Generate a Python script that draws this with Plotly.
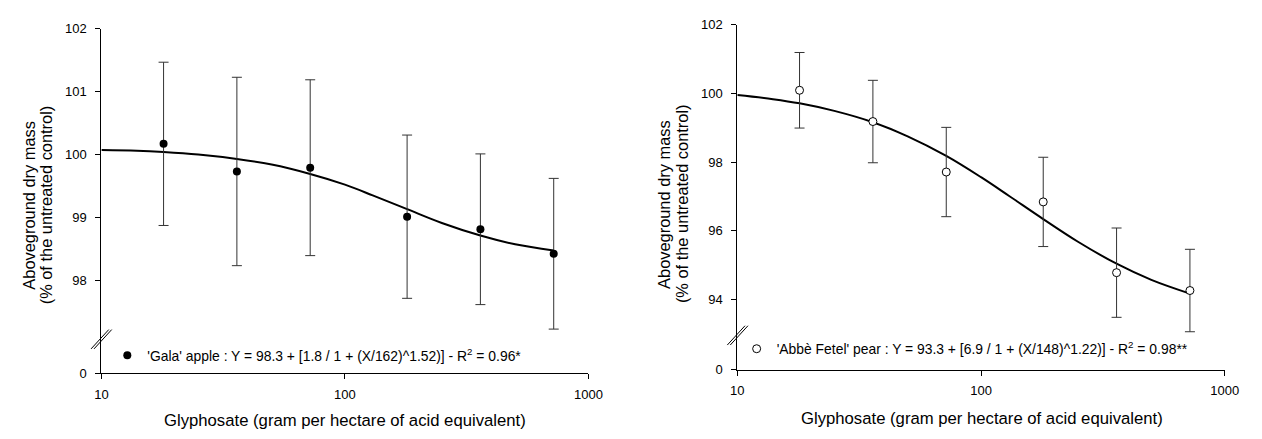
import plotly.graph_objects as go

W, H = 1262, 439

# ---------------- data ----------------
dose = [18, 36, 72, 180, 360, 720]

apple_mean = [100.17, 99.73, 99.79, 99.01, 98.81, 98.42]
apple_err = [1.30, 1.50, 1.40, 1.30, 1.20, 1.20]

pear_mean = [100.09, 99.18, 97.71, 96.84, 94.78, 94.26]
pear_err = [1.10, 1.20, 1.30, 1.30, 1.30, 1.20]

curve_x = [10, 14, 18, 25, 36, 50, 72, 100, 130, 180, 250, 360, 500, 720]
apple_curve = [100.07, 100.06, 100.04, 100.00, 99.93, 99.84, 99.69, 99.52,
               99.35, 99.13, 98.91, 98.71, 98.57, 98.47]
pear_curve = [99.95, 99.83, 99.71, 99.49, 99.16, 98.75, 98.18, 97.56,
              97.02, 96.34, 95.68, 95.04, 94.57, 94.17]

x_ticks = [10, 100, 1000]
apple_yticks = [96.52, 98, 99, 100, 101, 102]
apple_ylabels = ["0", "98", "99", "100", "101", "102"]
pear_yticks = [91.95, 94, 96, 98, 100, 102]
pear_ylabels = ["0", "94", "96", "98", "100", "102"]

apple_label = "'Gala' apple : Y = 98.3 + [1.8 / 1 + (X/162)^1.52)] - R<sup>2</sup> = 0.96*"
pear_label = "'Abbè Fetel' pear : Y = 93.3 + [6.9 / 1 + (X/148)^1.22)] - R<sup>2</sup> = 0.98**"
x_title = "Glyphosate (gram per hectare of acid equivalent)"
y_title1 = "Aboveground dry mass"
y_title2 = "(% of the untreated control)"

FONT = "Liberation Sans, Arial, sans-serif"


def px(x):
    return x / W


def py(y):
    return 1 - y / H


fig = go.Figure()

# left panel
fig.add_trace(go.Scatter(x=curve_x, y=apple_curve, mode="lines",
                         line=dict(color="black", width=2, shape="spline"),
                         xaxis="x", yaxis="y", showlegend=False, hoverinfo="skip"))
fig.add_trace(go.Scatter(x=dose, y=apple_mean, mode="markers", name=apple_label,
                         marker=dict(symbol="circle", size=8, color="black"),
                         error_y=dict(type="data", array=apple_err, color="#333333",
                                      thickness=1, width=5),
                         xaxis="x", yaxis="y", legend="legend"))
# right panel
fig.add_trace(go.Scatter(x=curve_x, y=pear_curve, mode="lines",
                         line=dict(color="black", width=2, shape="spline"),
                         xaxis="x2", yaxis="y2", showlegend=False, hoverinfo="skip"))
fig.add_trace(go.Scatter(x=dose, y=pear_mean, mode="markers", name=pear_label,
                         marker=dict(symbol="circle", size=8, color="white",
                                     line=dict(color="black", width=1)),
                         error_y=dict(type="data", array=pear_err, color="#333333",
                                      thickness=1, width=5),
                         xaxis="x2", yaxis="y2", legend="legend2"))

xcommon = dict(type="log", range=[1, 3], tickvals=x_ticks, ticktext=["10", "100", "1000"],
               showline=True, linecolor="black", linewidth=1, ticks="outside",
               ticklen=5, tickcolor="black", showgrid=False, zeroline=False,
               tickfont=dict(family=FONT, size=13, color="black"), ticklabelstandoff=4)
ycommon = dict(showline=True, linecolor="black", linewidth=1, ticks="outside",
               ticklen=5, tickcolor="black", showgrid=False, zeroline=False,
               tickfont=dict(family=FONT, size=13, color="black"), ticklabelstandoff=6)

fig.update_layout(
    width=W, height=H, autosize=False,
    margin=dict(l=0, r=0, t=0, b=0),
    paper_bgcolor="white", plot_bgcolor="white",
    font=dict(family=FONT, size=13, color="black"),
    xaxis=dict(domain=[px(96), px(591.3)], anchor="y", **xcommon),
    yaxis=dict(domain=[py(379), py(22.7)], anchor="x", range=[96.52, 102],
               tickvals=apple_yticks, ticktext=apple_ylabels, **ycommon),
    xaxis2=dict(domain=[px(742.7), px(1238.3)], anchor="y2", **xcommon),
    yaxis2=dict(domain=[py(375.7), py(18.3)], anchor="x2", range=[91.95, 102],
                tickvals=pear_yticks, ticktext=pear_ylabels, **ycommon),
    legend=dict(x=px(102), y=py(361), xanchor="left", yanchor="middle",
                bgcolor="rgba(0,0,0,0)", font=dict(family=FONT, size=13.9, color="black")),
    legend2=dict(x=px(742), y=py(354.3), xanchor="left", yanchor="middle",
                 bgcolor="rgba(0,0,0,0)", font=dict(family=FONT, size=13.9, color="black")),
)

annos = []
for cx, cy in [(343.5, 428), (991, 426)]:
    annos.append(dict(text=x_title, x=px(cx), y=py(cy), xref="paper", yref="paper",
                      xanchor="center", yanchor="middle", showarrow=False,
                      font=dict(family=FONT, size=16.7, color="black")))
for (x1, x2, cy) in [(22, 40, 205), (668, 686.5, 204)]:
    annos.append(dict(text=y_title1, x=px(x1), y=py(cy), xref="paper", yref="paper",
                      xanchor="center", yanchor="middle", showarrow=False, textangle=-90,
                      font=dict(family=FONT, size=16.4, color="black")))
    annos.append(dict(text=y_title2, x=px(x2), y=py(cy), xref="paper", yref="paper",
                      xanchor="center", yanchor="middle", showarrow=False, textangle=-90,
                      font=dict(family=FONT, size=16.4, color="black")))
fig.update_layout(annotations=annos)

# axis-break marks
shapes = []
for (bx, by) in [(96, 344), (743, 340)]:
    for off in (-1.5, 1.5):
        shapes.append(dict(type="line", xref="paper", yref="paper",
                           x0=px(bx - 9 + off), y0=py(by + 10),
                           x1=px(bx + 9 + off), y1=py(by - 10),
                           line=dict(color="black", width=1)))
fig.update_layout(shapes=shapes)

fig.write_html("out.html", config={"displayModeBar": False},
               post_script="document.body.style.margin='0';document.body.style.padding='0';")
